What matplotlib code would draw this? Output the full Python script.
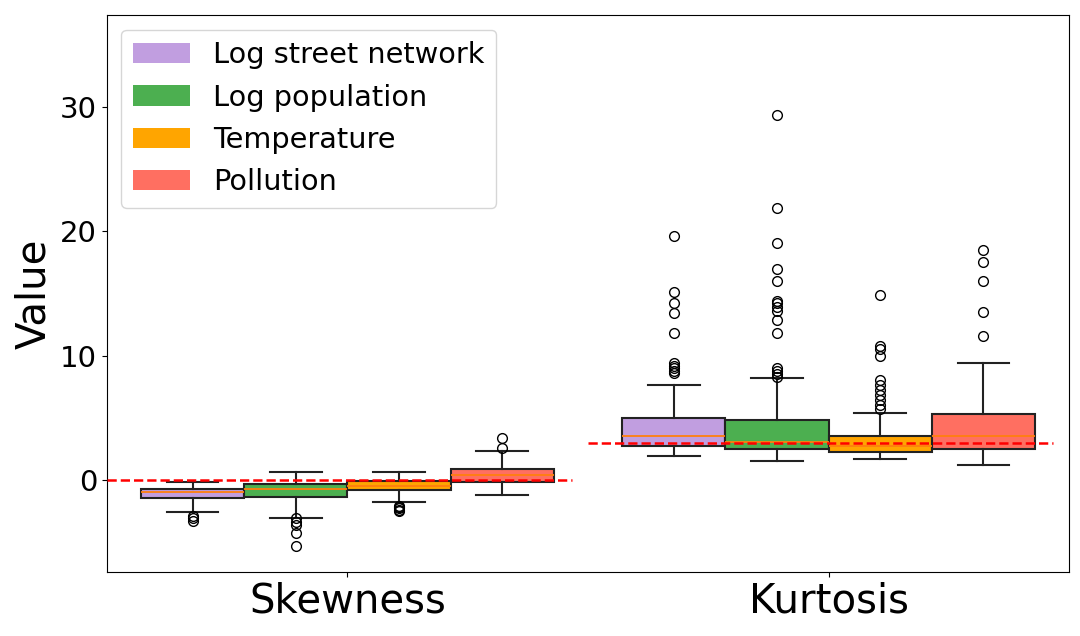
import numpy as np
import matplotlib
matplotlib.use("Agg")
import matplotlib.pyplot as plt
from matplotlib.patches import Patch

# summary statistics
metrics = ["Skewness", "Kurtosis"]
variables = ["Log street network", "Log population", "Temperature", "Pollution"]
colors = ["#c19ee0", "#4caf50", "#ffa500", "#ff6f61"]
reference_lines = [0, 3]

# one entry per variable, [skewness, kurtosis]
q1 = [[-1.45, 2.7], [-1.4, 2.5], [-0.8, 2.25], [-0.15, 2.5]]
medians = [[-1.0, 3.5], [-0.7, 3.05], [-0.5, 2.7], [0.35, 3.5]]
q3 = [[-0.75, 5.0], [-0.3, 4.78], [-0.1, 3.55], [0.9, 5.3]]
whis_low = [[-2.6, 1.9], [-3.1, 1.5], [-1.75, 1.7], [-1.25, 1.2]]
whis_high = [[-0.2, 7.6], [0.63, 8.2], [0.63, 5.4], [2.3, 9.4]]
fliers = [
    [[-2.9, -3.1, -3.35],
     [19.6, 15.1, 14.2, 13.4, 11.85, 9.4, 9.2, 9.0, 8.8, 8.6]],
    [[-3.1, -3.4, -3.6, -4.25, -5.35],
     [29.4, 21.9, 19.1, 16.95, 16.0, 14.4, 14.2, 13.9, 13.6, 12.9, 11.8,
      9.0, 8.8, 8.5, 8.3]],
    [[-2.1, -2.2, -2.3, -2.4, -2.5],
     [14.9, 10.8, 10.5, 10.0, 8.0, 7.6, 7.2, 6.8, 6.4, 6.0, 5.7]],
    [[2.6, 3.35],
     [18.5, 17.5, 16.0, 13.5, 11.6]],
]

fig = plt.figure(figsize=(10.8, 6.36), dpi=100)
ax = fig.add_axes([0.099, 0.101, 0.891, 0.875])

width = 0.2145
offsets = (np.arange(len(variables)) - 1.5) * width

for v, name in enumerate(variables):
    stats = []
    for m in range(len(metrics)):
        stats.append(dict(med=medians[v][m], q1=q1[v][m], q3=q3[v][m],
                          whislo=whis_low[v][m], whishi=whis_high[v][m],
                          fliers=fliers[v][m]))
    bp = ax.bxp(stats, positions=np.arange(len(metrics)) + offsets[v],
                widths=width, patch_artist=True, manage_ticks=False,
                flierprops=dict(marker="o", markerfacecolor="none",
                                markeredgecolor="black", markersize=7))
    for box in bp["boxes"]:
        box.set_facecolor(colors[v])
        box.set_edgecolor("#222222")
        box.set_linewidth(1.5)
    for part in bp["whiskers"] + bp["caps"]:
        part.set_color("#222222")
        part.set_linewidth(1.5)
    for med in bp["medians"]:
        med.set_color("#ff7f0e")
        med.set_linewidth(1.3)

# theoretical values for a normal distribution
ax.hlines(reference_lines[0], -0.5, 0.467, colors="red", linestyles="--", linewidth=1.8, zorder=5)
ax.hlines(reference_lines[1], 0.5, 1.467, colors="red", linestyles="--", linewidth=1.8, zorder=5)

ax.set_xlim(-0.5, 1.5)
ax.set_ylim(-7.4, 37.4)
ax.set_xticks(np.arange(len(metrics)))
ax.set_xticklabels(metrics, fontsize=29)
ax.set_yticks([0, 10, 20, 30])
ax.tick_params(axis="y", labelsize=21)
ax.set_ylabel("Value", fontsize=29)

handles = [Patch(facecolor=c, label=n) for c, n in zip(colors, variables)]
ax.legend(handles=handles, loc="upper left", fontsize=20.7)

fig.savefig("out.png", dpi=100)
